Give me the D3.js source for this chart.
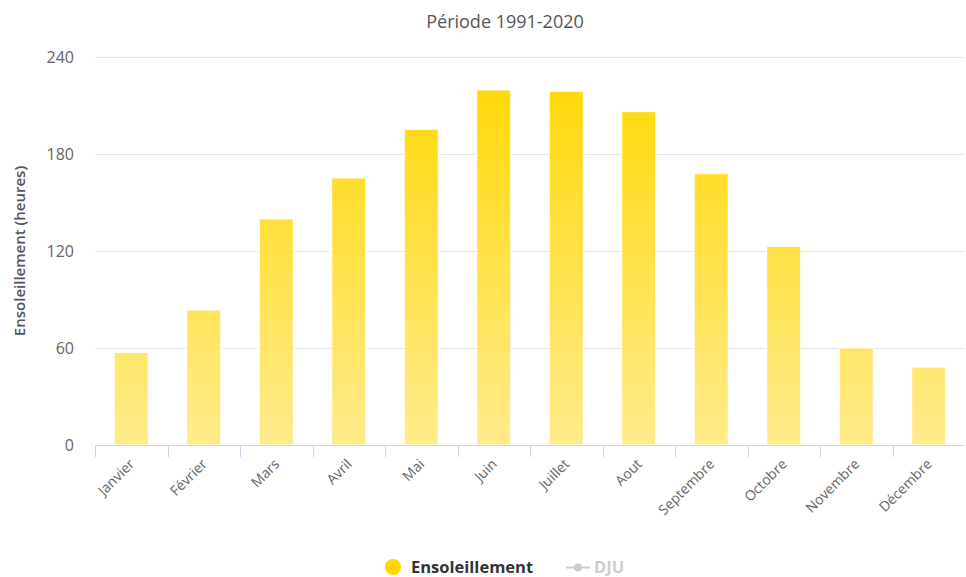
<!DOCTYPE html>
<html>
<head>
<meta charset="utf-8">
<script src="https://cdn.jsdelivr.net/npm/d3@7"></script>
<style>
  html, body { margin: 0; padding: 0; background: #fff; }
  svg { display: block; font-family: "Open Sans", "DejaVu Sans", sans-serif; }
</style>
</head>
<body>
<svg id="chart" width="966" height="577"></svg>
<script>
const months = ["Janvier", "Février", "Mars", "Avril", "Mai", "Juin", "Juillet", "Aout", "Septembre", "Octobre", "Novembre", "Décembre"];
const sunshine = [57.3, 83.5, 139.8, 165.2, 195.3, 219.6, 218.8, 206.2, 167.8, 122.9, 60, 48.2];
const yTicks = [0, 60, 120, 180, 240];
const titleText = "Période 1991-2020";
const yTitle = "Ensoleillement (heures)";
const legendItems = ["Ensoleillement", "DJU"];

const svg = d3.select("#chart");
const margin = { left: 95, right: 1, top: 57, bottom: 132 };
const W = 966, H = 577;
const x0 = margin.left, x1 = W - margin.right;
const y0 = H - margin.bottom, y1 = margin.top;

const x = d3.scaleBand().domain(months).range([x0, x1]).paddingInner(0.53).paddingOuter(0.265);
const xTick = d3.scaleBand().domain(months).range([x0, x1]);
const y = d3.scaleLinear().domain([0, 240]).range([y0, y1]);

const defs = svg.append("defs");
const grad = defs.append("linearGradient").attr("id", "barGrad")
  .attr("gradientUnits", "userSpaceOnUse")
  .attr("x1", 0).attr("x2", 0).attr("y1", y(240)).attr("y2", y(0));
grad.append("stop").attr("offset", "0%").attr("stop-color", "#ffd700");
grad.append("stop").attr("offset", "100%").attr("stop-color", "#ffeb8c");

// gridlines
svg.append("g").selectAll("line").data(yTicks.filter(d => d > 0)).join("line")
  .attr("x1", x0).attr("x2", x1)
  .attr("y1", d => Math.round(y(d)) + 0.5).attr("y2", d => Math.round(y(d)) + 0.5)
  .attr("stroke", "#e6e6e6").attr("stroke-width", 1);

// y labels
svg.append("g").selectAll("text").data(yTicks).join("text")
  .attr("x", 74).attr("y", d => y(d)).attr("dy", "0.35em")
  .attr("text-anchor", "end").attr("fill", "#666").style("font-size", "16px")
  .text(d => d);

// y title
svg.append("text")
  .attr("transform", `translate(25,${(y0 + y1) / 2}) rotate(-90)`)
  .attr("text-anchor", "middle").attr("fill", "#555")
  .style("font-size", "15px").style("font-weight", "600")
  .text(yTitle);

// bars
svg.append("g").selectAll("rect").data(months).join("rect")
  .attr("x", d => x(d)).attr("width", x.bandwidth())
  .attr("y", (d, i) => y(sunshine[i])).attr("height", (d, i) => y0 - y(sunshine[i]))
  .attr("fill", "url(#barGrad)").attr("stroke", "#ffffff").attr("stroke-width", 1);

// x axis
const xa = svg.append("g");
xa.append("line").attr("x1", x0).attr("x2", x1).attr("y1", y0 + 0.5).attr("y2", y0 + 0.5)
  .attr("stroke", "#ccd6eb").attr("stroke-width", 1);
xa.selectAll("line.tick").data(months).join("line").attr("class", "tick")
  .attr("x1", d => Math.round(xTick(d)) + 0.5).attr("x2", d => Math.round(xTick(d)) + 0.5)
  .attr("y1", y0).attr("y2", y0 + 12)
  .attr("stroke", "#ccd6eb").attr("stroke-width", 1);
xa.selectAll("text").data(months).join("text")
  .attr("transform", d => `translate(${xTick(d) + xTick.bandwidth() / 2 + 4},${y0 + 20}) rotate(-45)`)
  .attr("text-anchor", "end").attr("fill", "#666").style("font-size", "14px")
  .text(d => d);

// title
svg.append("text").attr("x", 505).attr("y", 28).attr("text-anchor", "middle")
  .attr("fill", "#555").style("font-size", "18px").text(titleText);

// legend
const lg = svg.append("g");
lg.append("circle").attr("cx", 393).attr("cy", 567).attr("r", 8).attr("fill", "#ffd700");
lg.append("text").attr("x", 411).attr("y", 567).attr("dy", "0.35em")
  .attr("fill", "#333").style("font-size", "16.5px").style("font-weight", "bold").text(legendItems[0]);
lg.append("line").attr("x1", 566).attr("x2", 590).attr("y1", 567.5).attr("y2", 567.5)
  .attr("stroke", "#cccccc").attr("stroke-width", 2);
lg.append("circle").attr("cx", 578).attr("cy", 567.5).attr("r", 4).attr("fill", "#cccccc");
lg.append("text").attr("x", 594).attr("y", 567).attr("dy", "0.35em")
  .attr("fill", "#cccccc").style("font-size", "16.5px").style("font-weight", "bold").text(legendItems[1]);
</script>
</body>
</html>
